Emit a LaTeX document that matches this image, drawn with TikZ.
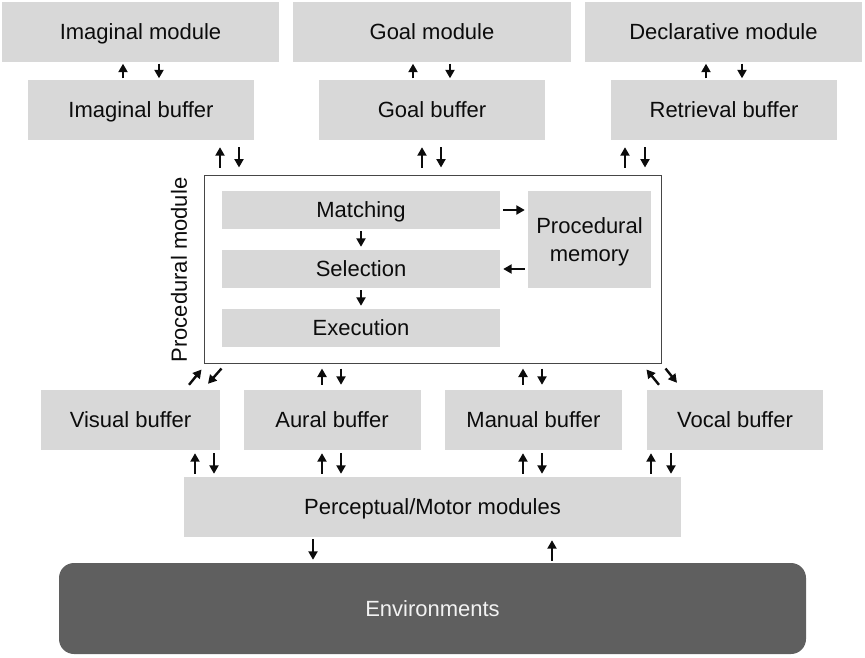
\documentclass[tikz,border=0pt]{standalone}
\usepackage{fontspec}
\setmainfont{Liberation Sans}
\usetikzlibrary{arrows.meta,calc}
\definecolor{boxgray}{RGB}{216,216,216}
\definecolor{envgray}{RGB}{95,95,95}
\definecolor{framegray}{RGB}{70,70,70}
\definecolor{ink}{RGB}{12,12,12}
\tikzset{
  lbl/.style={font=\fontsize{22}{28}\selectfont, text=ink, text height=15.8pt, text depth=0pt},
  gbox/.style={lbl, fill=boxgray, draw=none, inner sep=0pt, align=center},
  arr/.style={draw=ink, line width=2.4pt, -{Triangle[length=8.5pt,width=9pt]}},
  s1/.style={shorten <=1.5pt, shorten >=1.5pt},
  s7/.style={shorten <=7pt, shorten >=7pt},
  s5/.style={shorten <=5pt, shorten >=5pt},
  s3/.style={shorten <=3pt, shorten >=3pt},
  s2/.style={shorten <=2pt, shorten >=3pt},
}
\begin{document}
\begin{tikzpicture}[x=1pt,y=-1pt]
\useasboundingbox (0,0) rectangle (865,657);

% top modules
\node[gbox, minimum width=277pt, minimum height=60pt] (imm) at (140.5,32) {Imaginal module};
\node[gbox, minimum width=278pt, minimum height=60pt] (gom) at (432,32) {Goal module};
\node[gbox, minimum width=277pt, minimum height=60pt] (dem) at (723.5,32) {Declarative module};
% top buffers
\node[gbox, minimum width=226pt, minimum height=60pt] (imb) at (141,110) {Imaginal buffer};
\node[gbox, minimum width=226pt, minimum height=60pt] (gob) at (432,110) {Goal buffer};
\node[gbox, minimum width=226pt, minimum height=60pt] (reb) at (724,110) {Retrieval buffer};

% procedural module
\node[draw=framegray, line width=1pt, fill=white, minimum width=457pt, minimum height=188pt, inner sep=0pt] (proc) at (432.5,269) {};
\node[lbl, rotate=90, inner sep=0pt] (proclbl) at (179,270) {Procedural module};
\node[gbox, minimum width=278pt, minimum height=38pt] (mat) at (361,210) {Matching};
\node[gbox, minimum width=278pt, minimum height=38pt] (sel) at (361,269) {Selection};
\node[gbox, minimum width=278pt, minimum height=38pt] (exe) at (361,328) {Execution};
\node[gbox, text height=, minimum width=123pt, minimum height=97pt] (pmem) at (589.5,239.5) {Procedural\\memory};

% lower buffers
\node[gbox, minimum width=179pt, minimum height=60pt] (visb) at (130.5,420) {Visual buffer};
\node[gbox, minimum width=177pt, minimum height=60pt] (aurb) at (332,420) {Aural buffer};
\node[gbox, minimum width=177pt, minimum height=60pt] (manb) at (533.5,420) {Manual buffer};
\node[gbox, minimum width=176pt, minimum height=60pt] (vocb) at (735,420) {Vocal buffer};

% perceptual/motor
\node[gbox, minimum width=497pt, minimum height=60pt] (pm) at (432.5,507) {Perceptual/Motor modules};

% environments
\node[lbl, fill=envgray, rounded corners=15pt, minimum width=747pt, minimum height=91pt, inner sep=0pt, text=white!95!black] (env) at (432.5,608.5) {Environments};

% column coordinates
\foreach \n/\x in {a/123,b/159,c/413,d/450,e/706,f/742,
                   g/220,h/239,i/422,j/441,k/625,l/645,
                   m/322,n/341,o/523,p/542,
                   q/195,r/214,s/651,t/671,
                   u/313,v/552}
  \coordinate (x\n) at (\x,0);

% modules <-> buffers
\draw[arr,s1] (imb.north -| xa) -- (imm.south -| xa);
\draw[arr,s1] (imm.south -| xb) -- (imb.north -| xb);
\draw[arr,s1] (gob.north -| xc) -- (gom.south -| xc);
\draw[arr,s1] (gom.south -| xd) -- (gob.north -| xd);
\draw[arr,s1] (reb.north -| xe) -- (dem.south -| xe);
\draw[arr,s1] (dem.south -| xf) -- (reb.north -| xf);

% buffers <-> procedural
\draw[arr,s7] (proc.north -| xg) -- (imb.south -| xg);
\draw[arr,s7] (imb.south -| xh) -- (proc.north -| xh);
\draw[arr,s7] (proc.north -| xi) -- (gob.south -| xi);
\draw[arr,s7] (gob.south -| xj) -- (proc.north -| xj);
\draw[arr,s7] (proc.north -| xk) -- (reb.south -| xk);
\draw[arr,s7] (reb.south -| xl) -- (proc.north -| xl);

% inside procedural
\draw[arr,s3] (mat.east) -- (pmem.west |- mat.east);
\draw[arr,s3] (pmem.west |- sel.east) -- (sel.east);
\draw[arr,s2] (mat.south) -- (sel.north);
\draw[arr,s2] (sel.south) -- (exe.north);

% procedural <-> lower buffers
\draw[arr] ($(visb.north)+(58.5,-5)$) -- ($(proc.south west)+(-2,6)$);
\draw[arr] ($(proc.south west)+(18,5)$) -- ($(visb.north)+(77.5,-6)$);
\draw[arr,s5] (aurb.north -| xm) -- (proc.south -| xm);
\draw[arr,s5] (proc.south -| xn) -- (aurb.north -| xn);
\draw[arr,s5] (manb.north -| xo) -- (proc.south -| xo);
\draw[arr,s5] (proc.south -| xp) -- (manb.north -| xp);
\draw[arr] ($(vocb.north)+(-76,-5)$) -- ($(proc.south east)+(-15,6)$);
\draw[arr] ($(proc.south east)+(4,5)$) -- ($(vocb.north)+(-58,-7)$);

% lower buffers <-> perceptual/motor
\draw[arr,s3] (pm.north -| xq) -- (visb.south -| xq);
\draw[arr,s3] (visb.south -| xr) -- (pm.north -| xr);
\draw[arr,s3] (pm.north -| xm) -- (aurb.south -| xm);
\draw[arr,s3] (aurb.south -| xn) -- (pm.north -| xn);
\draw[arr,s3] (pm.north -| xo) -- (manb.south -| xo);
\draw[arr,s3] (manb.south -| xp) -- (pm.north -| xp);
\draw[arr,s3] (pm.north -| xs) -- (vocb.south -| xs);
\draw[arr,s3] (vocb.south -| xt) -- (pm.north -| xt);

% perceptual/motor <-> environments
\draw[arr,s2] (pm.south -| xu) -- (env.north -| xu);
\draw[arr,s2] (env.north -| xv) -- (pm.south -| xv);
\end{tikzpicture}
\end{document}
